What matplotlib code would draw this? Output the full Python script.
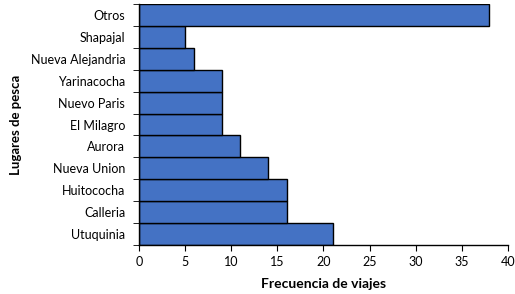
import matplotlib
matplotlib.use("Agg")
import matplotlib.pyplot as plt
import numpy as np

places = ["Utuquinia", "Calleria", "Huitococha", "Nueva Union", "Aurora",
          "El Milagro", "Nuevo Paris", "Yarinacocha", "Nueva Alejandria",
          "Shapajal", "Otros"]
trips = [21, 16, 16, 14, 11, 9, 9, 9, 6, 5, 38]
xticks = [0, 5, 10, 15, 20, 25, 30, 35, 40]

plt.rcParams['font.family'] = ['Lato', 'DejaVu Sans']

fig = plt.figure(figsize=(5.15, 2.94), dpi=100)
ax = fig.add_axes([0.270, 0.167, 0.716, 0.819])

y = np.arange(len(places))
ax.barh(y, trips, height=1.0, color="#4472C4", edgecolor="black", linewidth=1.0)

ax.set_xlim(0, 40)
ax.set_ylim(-0.5, len(places) - 0.5)
ax.set_xticks(xticks)
ax.set_xticklabels([str(t) for t in xticks], fontsize=9)
ax.set_yticks(y)
ax.set_yticklabels(places, fontsize=9)
ax.tick_params(axis='y', length=0, pad=10)
ax.set_yticks(np.arange(-0.5, len(places), 1.0), minor=True)
ax.tick_params(axis='y', which='minor', length=4, direction='out', color='black')
ax.tick_params(axis='x', length=4, direction='out', color='black', pad=4)

for s in ['top', 'right']:
    ax.spines[s].set_visible(False)
for s in ['left', 'bottom']:
    ax.spines[s].set_color('black')
    ax.spines[s].set_linewidth(1.0)

ax.set_xlabel("Frecuencia de viajes", fontsize=10, fontweight='bold', labelpad=7)
ax.set_ylabel("Lugares de pesca", fontsize=9.5, fontweight='bold', labelpad=6)

fig.savefig("out.png", dpi=100)
